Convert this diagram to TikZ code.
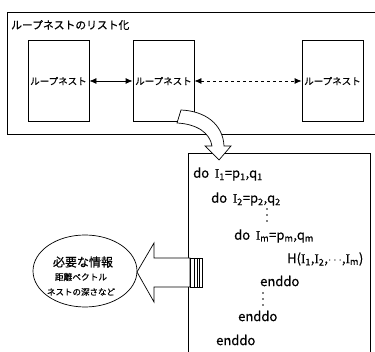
\documentclass[tikz,border=0pt]{standalone}
\usepackage{fontspec}
\setmainfont{Noto Sans CJK JP}[FakeBold=0.5]
\newfontfamily\serifI{Liberation Serif}[FakeBold=0.5]
\usetikzlibrary{arrows.meta}
\newcommand\subs[1]{\textsubscript{#1}}
\newcommand\Iv{{\serifI I}}
\tikzset{
  ln/.style={draw=black, line width=0.8pt},
  nestbox/.style={ln, minimum width=61pt, minimum height=81pt, inner sep=0pt},
  boxlabel/.style={font=\fontsize{9.5}{10}\selectfont, inner sep=0pt},
  codeline/.style={anchor=west, font=\fontsize{13}{14}\selectfont, inner sep=0pt},
  infotext/.style={inner sep=0pt},
  dbl/.style={line width=0.8pt, {Latex[length=7pt,width=6pt]}-{Latex[length=7pt,width=6pt]}},
  blockarrow/.style={draw=black, fill=white, line width=0.7pt, line join=miter},
  vdot/.style={fill=black},
}
\begin{document}
\begin{tikzpicture}[x=1pt,y=-1pt]
\useasboundingbox (0,0) rectangle (375,352);
% outer list box
\draw[ln] (380,12) -- (7,12) -- (7,134) -- (380,134);
\node[anchor=west, inner sep=0pt, font=\fontsize{10.8}{11}\selectfont] (title) at (11,25) {ループネストのリスト化};
% three nest boxes
\node[nestbox] (b1) at (58.5,81) {};
\node[nestbox] (b2) at (163.5,81) {};
\node[nestbox] (b3) at (332.5,81) {};
\node[boxlabel] (l1) at (b1.center) {ループネスト};
\node[boxlabel] (l2) at (b2.center) {ループネスト};
\node[boxlabel] (l3) at (b3.center) {ループネスト};
\draw[dbl] (b1.east) -- (b2.west);
\draw[dbl, dashed] (b2.east) -- (b3.west);
% code box
\draw[ln] (188,360) -- (188,153) -- (370,153) -- (370,360);
% curved block arrow
\draw[blockarrow] (181,110) .. controls (205,111) and (223,124) .. (224,146)
  -- (231,146) -- (219,160) -- (205,146) -- (212,146)
  .. controls (210,133) and (197,124) .. (177,123) -- cycle;
% code
\node[codeline] (c1) at (193,174) {do\ \ \Iv\subs{1}=p\subs{1},q\subs{1}};
\node[codeline] (c2) at (211,199) {do\ \ \Iv\subs{2}=p\subs{2},q\subs{2}};
\foreach \yy in {209,215,221} \fill[vdot] (267,\yy) circle (0.8pt);
\node[codeline] (c3) at (234,236) {do\ \ \Iv\subs{m}=p\subs{m},q\subs{m}};
\node[codeline] (c4) at (287,259) {H(\Iv\subs{1},\Iv\subs{2},$\cdots$,\Iv\subs{m})};
\node[codeline] (c5) at (260,281) {enddo};
\foreach \yy in {293,299,305} \fill[vdot] (263,\yy) circle (0.8pt);
\node[codeline] (c6) at (238,316) {enddo};
\node[codeline] (c7) at (216,340) {enddo};
% info ellipse
\draw[line width=0.7pt] (85,271) ellipse [x radius=52, y radius=36];
\node[infotext, font=\fontsize{12}{12}\selectfont] (i1) at (83,262) {必要な情報};
\node[infotext, font=\fontsize{8.7}{9}\selectfont] (i2) at (81,277) {距離ベクトル};
\node[infotext, font=\fontsize{8.5}{9}\selectfont] (i3) at (81,292) {ネストの深さなど};
% left block arrow with striped tail
\draw[blockarrow] (137,272) -- (154,243) -- (154,258) -- (190,258) -- (190,287)
  -- (154,287) -- (154,302) -- cycle;
\draw[line width=0.7pt, fill=white] (190,258) rectangle (202,287);
\draw[line width=0.5pt] (194,258) -- (194,287) (197,258) -- (197,287) (199.5,258) -- (199.5,287);
\end{tikzpicture}
\end{document}
